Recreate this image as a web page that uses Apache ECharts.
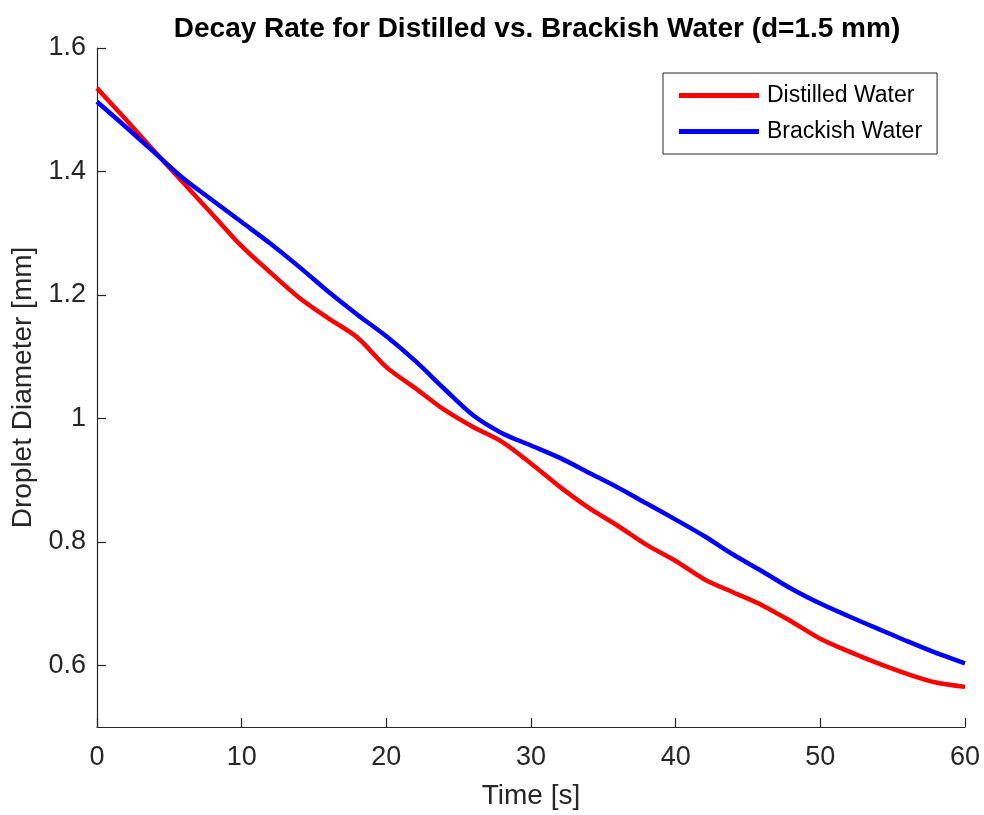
<!DOCTYPE html>
<html>
<head>
<meta charset="utf-8">
<title>Decay Rate for Distilled vs. Brackish Water</title>
<script src="https://cdn.jsdelivr.net/npm/echarts@6/dist/echarts.min.js"></script>
<style>
  html, body { margin: 0; padding: 0; background: #ffffff; }
  #chart { width: 984px; height: 815px; }
</style>
</head>
<body>
<div id="chart"></div>
<script>
// Sample times in seconds
const timeSec = [0, 2, 4, 6, 8, 10, 12, 14, 16, 18, 20, 22, 24, 26, 28, 30,
                 32, 34, 36, 38, 40, 42, 44, 46, 48, 50, 52, 54, 56, 58, 60];

// Droplet diameter [mm], distilled water
const distilledMm = [1.535, 1.484, 1.432, 1.381, 1.330, 1.279, 1.236, 1.195, 1.162, 1.131,
                     1.083, 1.049, 1.014, 0.986, 0.962, 0.927, 0.889, 0.855, 0.826, 0.795,
                     0.769, 0.739, 0.718, 0.697, 0.671, 0.643, 0.622, 0.603, 0.586, 0.572, 0.565];

// Droplet diameter [mm], brackish water
const brackishMm = [1.513, 1.472, 1.430, 1.388, 1.353, 1.318, 1.283, 1.245, 1.205, 1.168,
                    1.133, 1.093, 1.048, 1.005, 0.976, 0.956, 0.936, 0.912, 0.888, 0.862,
                    0.836, 0.809, 0.779, 0.752, 0.724, 0.700, 0.679, 0.659, 0.639, 0.620, 0.603];

// Axis tick values
const xTicks = [0, 10, 20, 30, 40, 50, 60];
const yTicks = [0.6, 0.8, 1, 1.2, 1.4, 1.6];

const seriesNames = ['Distilled Water', 'Brackish Water'];

const toPairs = (xs, ys) => xs.map((x, i) => [x, ys[i]]);

const axisColor = '#262626';
const fontFamily = '"Liberation Sans", Arial, Helvetica, sans-serif';

const chart = echarts.init(document.getElementById('chart'), null, { renderer: 'canvas' });

chart.setOption({
  backgroundColor: '#ffffff',
  animation: false,
  title: {
    text: 'Decay Rate for Distilled vs. Brackish Water (d=1.5 mm)',
    left: 532,
    top: 10,
    textAlign: 'center',
    textStyle: {
      fontFamily: fontFamily,
      fontSize: 28,
      fontWeight: 'bold',
      color: '#000000'
    }
  },
  grid: {
    left: 97,
    right: 19,
    top: 48,
    bottom: 84,
    containLabel: false
  },
  legend: {
    orient: 'vertical',
    left: 663,
    top: 73,
    padding: [11, 15, 11, 16],
    icon: 'rect',
    itemWidth: 80,
    itemHeight: 5,
    itemGap: 13,
    borderColor: axisColor,
    borderWidth: 1,
    backgroundColor: '#ffffff',
    data: seriesNames,
    textStyle: {
      fontFamily: fontFamily,
      fontSize: 23,
      color: '#000000',
      lineHeight: 20,
      padding: [0, 0, 0, 3]
    }
  },
  xAxis: {
    type: 'value',
    min: 0,
    max: 60,
    interval: 10,
    name: 'Time [s]',
    nameLocation: 'middle',
    nameGap: 55,
    nameTextStyle: { fontFamily: fontFamily, fontSize: 28, color: axisColor },
    axisLine: { show: true, onZero: false, lineStyle: { color: axisColor, width: 1.2 } },
    axisTick: { show: true, inside: true, length: 9, lineStyle: { color: axisColor, width: 1.2 },
                customValues: xTicks },
    axisLabel: { fontFamily: fontFamily, fontSize: 27, color: axisColor, margin: 17,
                 customValues: xTicks },
    splitLine: { show: false }
  },
  yAxis: {
    type: 'value',
    min: 0.5,
    max: 1.6,
    name: 'Droplet Diameter [mm]',
    nameLocation: 'middle',
    nameGap: 60,
    nameTextStyle: { fontFamily: fontFamily, fontSize: 28, color: axisColor },
    axisLine: { show: true, onZero: false, lineStyle: { color: axisColor, width: 1.2 } },
    axisTick: { show: true, inside: true, length: 9, lineStyle: { color: axisColor, width: 1.2 },
                customValues: yTicks },
    axisLabel: { fontFamily: fontFamily, fontSize: 27, color: axisColor, margin: 11,
                 customValues: yTicks,
                 formatter: v => String(Math.round(v * 10) / 10) },
    splitLine: { show: false }
  },
  series: [
    {
      name: seriesNames[0],
      type: 'line',
      data: toPairs(timeSec, distilledMm),
      smooth: 0.3,
      symbol: 'none',
      lineStyle: { color: '#ff0000', width: 4.5 },
      itemStyle: { color: '#ff0000' },
      z: 2
    },
    {
      name: seriesNames[1],
      type: 'line',
      data: toPairs(timeSec, brackishMm),
      smooth: 0.3,
      symbol: 'none',
      lineStyle: { color: '#0000ff', width: 4.5 },
      itemStyle: { color: '#0000ff' },
      z: 3
    }
  ]
});
</script>
</body>
</html>
